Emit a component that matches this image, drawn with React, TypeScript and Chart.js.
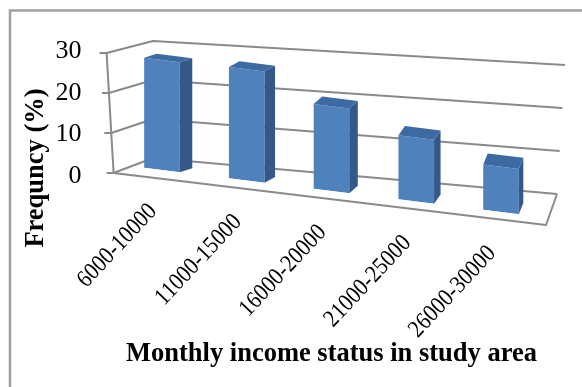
import { useEffect, useRef } from 'react';
import { Chart, registerables } from 'chart.js';

Chart.register(...registerables);

// Monthly income groups and the share of respondents in each (%)
const incomeGroups = ['6000-10000', '11000-15000', '16000-20000', '21000-25000', '26000-30000'];
const frequencyPct = [26.5, 26.8, 20.4, 15.4, 10.9];
const yMin = 0;
const yMax = 30;
const yStep = 10;

const SERIF = '"Liberation Serif", "Times New Roman", Times, serif';
const SHEAR = 0.124; // downward slope of the floor, gives the tilted 3-D look
const LABEL_ANGLE = 50;
const WALL = '#8a8a8a';
const FRONT = '#4f81bd';
const SIDE = '#32598a';
const TOP = '#3d6aa3';

type Pt = [number, number];
const lerp = (a: Pt, b: Pt, t: number): Pt => [a[0] + (b[0] - a[0]) * t, a[1] + (b[1] - a[1]) * t];

function boxCorners(ca: any) {
  const L = ca.left, R = ca.right, T = ca.top, B = ca.bottom;
  return {
    FLb: [L - 6, B + 8.3] as Pt,
    FLt: [L - 13, T + 12.8] as Pt,
    BLb: [L + 33.4, B - 6.7] as Pt,
    BLt: [L + 33.4, T + 0.8] as Pt,
    BRb: [R + 13.6, B + 29.3] as Pt,
    BRt: [R + 21.6, T + 24.8] as Pt,
    FRb: [R + 2.6, B + 60.3] as Pt,
  };
}

const perspective = {
  id: 'perspective',
  beforeDraw(chart: any) {
    const { ctx, chartArea: ca } = chart;
    const ys = chart.scales.y;
    const c = boxCorners(ca);

    // outer frame
    ctx.save();
    ctx.strokeStyle = '#a0a0a0';
    ctx.lineWidth = 2.5;
    ctx.strokeRect(10, 10.5, 700, 500);

    // walls, floor and gridlines
    ctx.strokeStyle = WALL;
    ctx.lineWidth = 2;
    ctx.lineJoin = 'round';
    const p0 = ys.getPixelForValue(ys.min);
    const p1 = ys.getPixelForValue(ys.max);
    ys.ticks.forEach((tk: any) => {
      const t = (p0 - ys.getPixelForValue(tk.value)) / (p0 - p1);
      const a = lerp(c.FLb, c.FLt, t);
      const b = lerp(c.BLb, c.BLt, t);
      const d = lerp(c.BRb, c.BRt, t);
      ctx.beginPath();
      ctx.moveTo(a[0] - 7, a[1]);
      ctx.lineTo(a[0], a[1]);
      ctx.lineTo(b[0], b[1]);
      ctx.lineTo(d[0], d[1]);
      ctx.stroke();
    });
    ctx.beginPath();
    ctx.moveTo(c.FLt[0], c.FLt[1]);
    ctx.lineTo(c.FLb[0], c.FLb[1]);
    ctx.lineTo(c.FRb[0], c.FRb[1]);
    ctx.lineTo(c.BRb[0], c.BRb[1]);
    ctx.stroke();
    ctx.restore();

    // shear the plot so bars and category labels follow the floor
    ctx.save();
    ctx.transform(1, SHEAR, 0, 1, 0, -SHEAR * ca.left);
  },
  afterDatasetsDraw(chart: any) {
    const { ctx, chartArea: ca } = chart;
    ctx.restore();
    const L = ca.left, R = ca.right;
    const toScreen = (x: number, y: number): Pt => [x, y + SHEAR * (x - L)];
    const meta = chart.getDatasetMeta(0);
    ctx.save();
    meta.data.forEach((bar: any) => {
      const { x, y, base, width } = bar.getProps(['x', 'y', 'base', 'width'], true);
      const xl = x - width / 2;
      const xr = x + width / 2;
      const u = (x - L) / (R - L);
      const dx = 13.5 - 10 * u;
      const dy = -3 - 9 * u;
      const tl = toScreen(xl, y);
      const tr = toScreen(xr, y);
      const br = toScreen(xr, base);
      // side face
      ctx.fillStyle = SIDE;
      ctx.beginPath();
      ctx.moveTo(tr[0], tr[1]);
      ctx.lineTo(tr[0] + dx, tr[1] + dy);
      ctx.lineTo(br[0] + dx, br[1] + dy);
      ctx.lineTo(br[0], br[1]);
      ctx.closePath();
      ctx.fill();
      // top face
      ctx.fillStyle = TOP;
      ctx.beginPath();
      ctx.moveTo(tl[0], tl[1]);
      ctx.lineTo(tr[0], tr[1]);
      ctx.lineTo(tr[0] + dx, tr[1] + dy);
      ctx.lineTo(tl[0] + dx, tl[1] + dy);
      ctx.closePath();
      ctx.fill();
    });
    ctx.restore();
  },
  afterDraw(chart: any) {
    const { ctx } = chart;
    ctx.save();
    ctx.translate(36, 168);
    ctx.rotate(-Math.PI / 2);
    ctx.font = `bold 26.5px ${SERIF}`;
    ctx.fillStyle = '#000';
    ctx.textAlign = 'center';
    ctx.textBaseline = 'middle';
    ctx.fillText('Frequncy (%)', 0, 0);
    ctx.restore();
  },
};

export default function App() {
  const ref = useRef<HTMLCanvasElement>(null);

  useEffect(() => {
    const canvas = ref.current;
    if (!canvas) return;
    const chart = new Chart(canvas, {
      type: 'bar',
      data: {
        labels: incomeGroups,
        datasets: [
          {
            data: frequencyPct,
            backgroundColor: FRONT,
            borderWidth: 0,
            barPercentage: 0.42,
            categoryPercentage: 1,
          },
        ],
      },
      options: {
        responsive: false,
        animation: false,
        devicePixelRatio: 1,
        layout: { padding: { top: 40.2, right: 38.6, bottom: 0, left: 0 } },
        plugins: { legend: { display: false }, tooltip: { enabled: false } },
        scales: {
          x: {
            grid: { display: false, z: 1 },
            border: { display: false },
            ticks: {
              autoSkip: false,
              minRotation: LABEL_ANGLE,
              maxRotation: LABEL_ANGLE,
              padding: 22,
              labelOffset: -9,
              color: '#000',
              font: { family: SERIF, size: 23 },
            },
            title: {
              display: true,
              text: 'Monthly income status in study area',
              color: '#000',
              font: { family: SERIF, size: 26.5, weight: 'bold' },
              padding: { top: 0, bottom: 17 },
            },
            afterFit: (s: any) => {
              s.height = 222.3;
              s.paddingLeft = 0;
              s.paddingRight = 0;
            },
          },
          y: {
            min: yMin,
            max: yMax,
            grid: { display: false, z: 1 },
            border: { display: false },
            ticks: {
              stepSize: yStep,
              padding: 30,
              labelOffset: 11,
              z: 1,
              color: '#000',
              font: { family: SERIF, size: 26 },
            },
            afterFit: (s: any) => {
              s.width = 119.6;
              s.paddingTop = 0;
              s.paddingBottom = 0;
            },
          },
        },
      },
      plugins: [perspective],
    } as any);
    return () => chart.destroy();
  }, []);

  return (
    <div style={{ position: 'fixed', left: 0, top: 0, width: 582, height: 387, background: '#fff' }}>
      <canvas ref={ref} width={582} height={387} style={{ display: 'block' }} />
    </div>
  );
}
